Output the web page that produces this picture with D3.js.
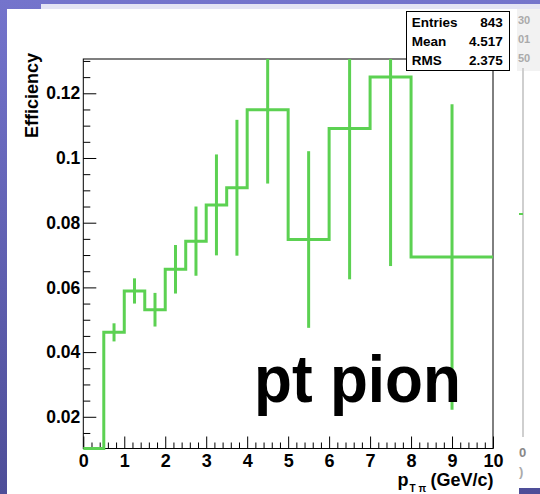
<!DOCTYPE html>
<html>
<head>
<meta charset="utf-8">
<script src="https://cdn.jsdelivr.net/npm/d3@7"></script>
<style>
  body { margin: 0; background: #fff; }
  svg { display: block; font-family: "Liberation Sans", Arial, sans-serif; }
</style>
</head>
<body>
<svg id="chart" width="540" height="494"></svg>
<script>
// Histogram data (variable bin widths)
const binEdges = [0, 0.5, 1, 1.5, 2, 2.5, 3, 3.5, 4, 5, 6, 7, 8, 10];
const efficiency = [0, 0.0461, 0.0589, 0.0531, 0.0656, 0.0743, 0.0855, 0.0908, 0.1149, 0.0748, 0.1091, 0.125, 0.0694];
const errors = [0, 0.0028, 0.0039, 0.0052, 0.0075, 0.0107, 0.0156, 0.021, 0.0228, 0.0273, 0.0466, 0.0584, 0.0472];

const xTicks = [0, 1, 2, 3, 4, 5, 6, 7, 8, 9, 10];
const yTicks = [0.02, 0.04, 0.06, 0.08, 0.1, 0.12];

const statNames = ["Entries", "Mean", "RMS"];
const statValues = ["843", "4.517", "2.375"];

const green = "#5cd152";
const svg = d3.select("#chart");

// Slide background pieces (blue border, window behind)
const defs = svg.append("defs");
const grad = defs.append("linearGradient")
  .attr("id", "blue").attr("x1", 0).attr("y1", 0).attr("x2", 0).attr("y2", 1);
grad.append("stop").attr("offset", "0%").attr("stop-color", "#7474cc");
grad.append("stop").attr("offset", "100%").attr("stop-color", "#4e4e98");

svg.append("rect").attr("width", 540).attr("height", 494).attr("fill", "url(#blue)");
svg.append("rect").attr("x", 41).attr("y", 4).attr("width", 499).attr("height", 6).attr("fill", "#e4e4f4");
svg.append("rect").attr("x", 7).attr("y", 9).attr("width", 533).attr("height", 479).attr("fill", "#fff");
svg.append("rect").attr("x", 7).attr("y", 488).attr("width", 512).attr("height", 6).attr("fill", "#fff");

// fragments of the second canvas peeking out at the right
svg.append("rect").attr("x", 517).attr("y", 9).attr("width", 23).attr("height", 62).attr("fill", "#f2f2f2");
svg.append("line").attr("x1", 523).attr("x2", 523).attr("y1", 68).attr("y2", 437)
  .attr("stroke", "#cfcfcf").attr("stroke-width", 2);
["30", "01", "50"].forEach((t, i) => {
  svg.append("text").attr("x", 518).attr("y", 24 + i * 19).attr("fill", "#aaa")
    .style("font-size", "11px").style("font-weight", "bold").text(t);
});
svg.append("text").attr("x", 519).attr("y", 457).attr("fill", "#888")
  .style("font-size", "13px").style("font-weight", "bold").text("0");
svg.append("text").attr("x", 519).attr("y", 476).attr("fill", "#aaa")
  .style("font-size", "13px").style("font-weight", "bold").text(")");
svg.append("line").attr("x1", 519).attr("x2", 523).attr("y1", 214).attr("y2", 214)
  .attr("stroke", green).attr("stroke-width", 2);

// Plot frame
const frameLeft = 83.3, frameRight = 493, frameTop = 59, frameBottom = 448.5;
const x = d3.scaleLinear().domain([0, 10]).range([frameLeft, frameRight]);
const y = d3.scaleLinear().domain([0.0102, 0.1306]).range([frameBottom, frameTop]);
const yc = y.copy().clamp(true);

svg.append("rect")
  .attr("x", frameLeft).attr("y", frameTop)
  .attr("width", frameRight - frameLeft).attr("height", frameBottom - frameTop)
  .attr("fill", "none").attr("stroke", "#000").attr("stroke-width", 1);

// Y axis: major + minor ticks drawn inside the frame
const fmt = d => String(+d.toFixed(3));
const yMinor = d3.range(0.015, 0.1306, 0.005).filter(v => !yTicks.some(t => Math.abs(t - v) < 1e-6));
svg.append("g").attr("transform", `translate(${frameLeft},0)`)
  .call(d3.axisLeft(y).tickValues(yMinor).tickSizeInner(-7).tickSizeOuter(0).tickFormat(""))
  .call(g => g.select(".domain").remove());
svg.append("g").attr("transform", `translate(${frameLeft},0)`)
  .call(d3.axisLeft(y).tickValues(yTicks).tickSizeInner(-13).tickSizeOuter(0).tickPadding(3).tickFormat(fmt))
  .call(g => g.select(".domain").remove())
  .call(g => g.selectAll("text").attr("fill", "#000")
    .style("font-size", "17.5px").style("font-weight", "bold")
    .style("font-family", "'Liberation Sans', Arial, sans-serif"));

// X axis
const xMinor = d3.range(0, 10.01, 0.2).filter(v => Math.abs(v - Math.round(v)) > 1e-6);
svg.append("g").attr("transform", `translate(0,${frameBottom})`)
  .call(d3.axisBottom(x).tickValues(xMinor).tickSizeInner(-6).tickSizeOuter(0).tickFormat(""))
  .call(g => g.select(".domain").remove());
svg.append("g").attr("transform", `translate(0,${frameBottom})`)
  .call(d3.axisBottom(x).tickValues(xTicks).tickSizeInner(-12).tickSizeOuter(0).tickPadding(6).tickFormat(d => d))
  .call(g => g.select(".domain").remove())
  .call(g => g.selectAll("text").attr("fill", "#000")
    .style("font-size", "18px").style("font-weight", "bold")
    .style("font-family", "'Liberation Sans', Arial, sans-serif"));

// Axis titles
svg.append("text")
  .attr("transform", "translate(38.3,53) rotate(-90)")
  .attr("text-anchor", "end")
  .style("font-size", "18px").style("font-weight", "bold")
  .text("Efficiency");

const xt = svg.append("text")
  .attr("x", 397.5).attr("y", 486)
  .style("font-size", "18px").style("font-weight", "bold");
xt.append("tspan").text("p");
xt.append("tspan").attr("dy", 6).attr("dx", 1).style("font-size", "10px").text("T");
xt.append("tspan").attr("dx", 3).style("font-size", "10px").text("\u03C0");
xt.append("tspan").attr("x", 430.4).attr("dy", -6).text("(GeV/c)");

// Histogram step line
const stepPoints = efficiency.map((v, i) => [binEdges[i], v]);
stepPoints.push([binEdges[binEdges.length - 1], efficiency[efficiency.length - 1]]);
const step = d3.line()
  .x(d => x(d[0]))
  .y(d => yc(d[1]))
  .curve(d3.curveStepAfter);

svg.append("path")
  .datum(stepPoints)
  .attr("d", step)
  .attr("fill", "none")
  .attr("stroke", green)
  .attr("stroke-width", 3);

// Error bars at bin centres
const bars = efficiency.map((v, i) => ({
  c: (binEdges[i] + binEdges[i + 1]) / 2, v: v, e: errors[i]
})).filter(d => d.e > 0);

svg.append("g").selectAll("line")
  .data(bars)
  .join("line")
  .attr("x1", d => x(d.c)).attr("x2", d => x(d.c))
  .attr("y1", d => yc(d.v - d.e)).attr("y2", d => yc(d.v + d.e))
  .attr("stroke", green).attr("stroke-width", 3);

// Big label
svg.append("text")
  .attr("x", 254).attr("y", 402)
  .attr("textLength", 207).attr("lengthAdjust", "spacingAndGlyphs")
  .style("font-size", "67px").style("font-weight", "bold")
  .text("pt pion");

// Stats box
const stats = svg.append("g");
stats.append("rect")
  .attr("x", 406.5).attr("y", 11.5).attr("width", 103).attr("height", 59)
  .attr("fill", "#fff").attr("stroke", "#000").attr("stroke-width", 1);
statNames.forEach((name, i) => {
  stats.append("text").attr("x", 411.7).attr("y", 26.5 + i * 19.3)
    .style("font-size", "13.5px").style("font-weight", "bold").text(name);
  stats.append("text").attr("x", 502.7).attr("y", 26.5 + i * 19.3)
    .attr("text-anchor", "end")
    .style("font-size", "13.5px").style("font-weight", "bold").text(statValues[i]);
});
</script>
</body>
</html>
